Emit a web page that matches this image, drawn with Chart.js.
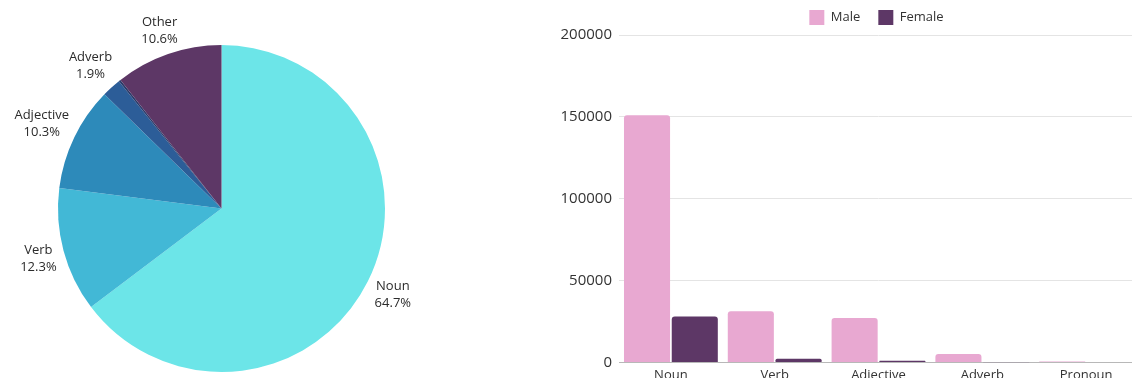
<!DOCTYPE html>
<html lang="en">

<head>
    <meta charset="UTF-8">
    <title>Parts of speech</title>
    <script src="https://cdn.jsdelivr.net/npm/chart.js"></script>
    <style>
        html, body {
            margin: 0;
            width: 1132px;
            height: 378px;
            overflow: hidden;
            background: #fff;
        }
        #pie-chart { position: absolute; left: 0; top: 0; }
        #bar-chart { position: absolute; left: 550px; top: -8px; }
    </style>
</head>

<body>
    <canvas id="pie-chart" width="540" height="378"></canvas>
    <canvas id="bar-chart" width="595" height="396"></canvas>

    <script>
        // share of each part of speech (%)
        const partLabels = ['Noun', 'Verb', 'Adjective', 'Adverb', 'Pronoun', 'Other'];
        const sharePct = [64.7, 12.3, 10.3, 1.9, 0.2, 10.6];
        const partColors = ['#6ce5e8', '#42b8d6', '#2d8aba', '#2c5d98', '#2a3b6a', '#5d3766'];

        // word counts by speaker gender
        const barLabels = ['Noun', 'Verb', 'Adjective', 'Adverb', 'Pronoun'];
        const maleCounts = [151000, 31200, 27100, 5100, 600];
        const femaleCounts = [28100, 2200, 1000, 100, 0];

        Chart.defaults.font.family = '"Open Sans", sans-serif';
        Chart.defaults.color = '#333';

        // two-line "name / pct" labels just outside each slice
        const pieLabels = {
            id: 'pieLabels',
            afterDatasetsDraw(chart) {
                const ctx = chart.ctx;
                const meta = chart.getDatasetMeta(0);
                ctx.save();
                ctx.font = '13px "Open Sans"';
                ctx.fillStyle = '#2b2b2b';
                ctx.textAlign = 'center';
                ctx.textBaseline = 'middle';
                meta.data.forEach((arc, i) => {
                    const pct = sharePct[i];
                    if (pct < 1) return;
                    const p = arc.getProps(['x', 'y', 'startAngle', 'endAngle', 'outerRadius'], true);
                    const mid = (p.startAngle + p.endAngle) / 2;
                    const lines = [partLabels[i], pct.toFixed(1) + '%'];
                    const hw = Math.max(...lines.map(t => ctx.measureText(t).width)) / 2;
                    const hh = 17;
                    const cos = Math.cos(mid), sin = Math.sin(mid);
                    const d = p.outerRadius + 4 + hw * Math.abs(cos) + hh * Math.abs(sin);
                    const cx = p.x + d * cos, cy = p.y + d * sin + 1.5;
                    ctx.fillText(lines[0], cx, cy - 8.5);
                    ctx.fillText(lines[1], cx, cy + 8.5);
                });
                ctx.restore();
            }
        };

        // keep the legend centred over the plot rather than the whole canvas
        const legendOverPlot = {
            id: 'legendOverPlot',
            afterLayout(chart) {
                chart.legend.left = chart.chartArea.left - 4;
            }
        };

        new Chart(document.getElementById('pie-chart'), {
            type: 'pie',
            data: {
                labels: partLabels,
                datasets: [{
                    data: sharePct,
                    backgroundColor: partColors,
                    borderWidth: 0
                }]
            },
            options: {
                responsive: false,
                animation: false,
                layout: { padding: { left: 58, top: 45, right: 155, bottom: 6 } },
                plugins: {
                    legend: { display: false },
                    tooltip: { enabled: false }
                }
            },
            plugins: [pieLabels]
        });

        new Chart(document.getElementById('bar-chart'), {
            type: 'bar',
            data: {
                labels: barLabels,
                datasets: [{
                    label: 'Male',
                    data: maleCounts,
                    backgroundColor: '#e8a8d1',
                    borderRadius: 3,
                    borderWidth: 0
                }, {
                    label: 'Female',
                    data: femaleCounts,
                    backgroundColor: '#5d3766',
                    borderRadius: 3,
                    borderWidth: 0
                }]
            },
            options: {
                responsive: false,
                animation: false,
                layout: { padding: { right: 7 } },
                datasets: {
                    bar: { categoryPercentage: 0.92, barPercentage: 0.965 }
                },
                scales: {
                    x: {
                        grid: { display: false, drawTicks: false },
                        border: { color: '#b8b8b8' },
                        ticks: { padding: 5, font: { size: 13 } }
                    },
                    y: {
                        min: 0,
                        max: 200000,
                        afterFit: s => { s.width = 69; },
                        grid: { color: '#e4e4e4', drawTicks: false },
                        border: { display: false },
                        ticks: {
                            stepSize: 50000,
                            padding: 7,
                            font: { size: 15 },
                            callback: v => String(v)
                        }
                    }
                },
                plugins: {
                    legend: {
                        labels: {
                            boxWidth: 15,
                            boxHeight: 15,
                            padding: 18,
                            font: { size: 13 }
                        }
                    },
                    tooltip: { enabled: false }
                }
            },
            plugins: [legendOverPlot]
        });
    </script>
</body>

</html>
